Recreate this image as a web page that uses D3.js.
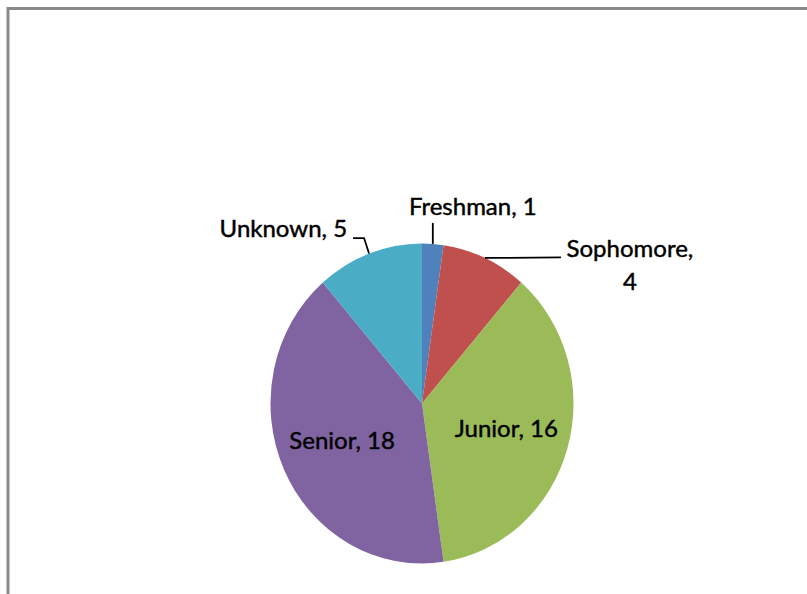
<!doctype html>
<html>
<head>
<meta charset="utf-8">
<script src="https://d3js.org/d3.v7.min.js"></script>
<style>
  body { margin: 0; background: #fff; }
  .lbl { font-family: Lato, "Open Sans", sans-serif; font-size: 24px; fill: #000; stroke: #000; stroke-width: 0.45; }
  .leader { fill: none; stroke: #000; stroke-width: 1.8; }
</style>
</head>
<body>
<svg width="807" height="594"></svg>
<script>
// data
var categories = ["Freshman", "Sophomore", "Junior", "Senior", "Unknown"];
var counts = [1, 4, 16, 18, 5];
var colors = ["#4F81BD", "#C0504D", "#9BBB59", "#8064A2", "#4BACC6"];

var svg = d3.select("svg"),
    cx = 422, cy = 403.5,
    R = 160,
    sx = 0.947; // pie is a bit squeezed horizontally in the original

// chart frame (runs off right/bottom of the picture)
svg.append("rect")
    .attr("x", 8).attr("y", 8.5)
    .attr("width", 900).attr("height", 700)
    .attr("fill", "none")
    .attr("stroke", "#898989")
    .attr("stroke-width", 3);

var pie = d3.pie().sort(null).value(function(d) { return d; });
var arcs = pie(counts);
var arc = d3.arc().innerRadius(0).outerRadius(R);

var g = svg.append("g")
    .attr("transform", "translate(" + cx + "," + cy + ") scale(" + sx + ",1)");

g.selectAll("path")
    .data(arcs)
    .enter().append("path")
    .attr("d", arc)
    .attr("fill", function(d, i) { return colors[i]; });

// point at radius r along the middle of a slice, in page coords
function pt(d, r) {
    var a = (d.startAngle + d.endAngle) / 2;
    return [cx + Math.sin(a) * r * sx, cy - Math.cos(a) * r];
}

function label(i) { return categories[i] + ", " + counts[i]; }

// inside labels: Junior, Senior
[2, 3].forEach(function(i) {
    var p = pt(arcs[i], R * 0.58);
    svg.append("text").attr("class", "lbl")
        .attr("x", p[0]).attr("y", p[1])
        .attr("dy", "0.3em")
        .attr("text-anchor", "middle")
        .text(label(i));
});

// outside labels with leader lines
// Freshman: straight up
var pf = pt(arcs[0], R);
svg.append("path").attr("class", "leader")
    .attr("d", d3.line()([pf, [pf[0], pf[1] - 21]]));
svg.append("text").attr("class", "lbl")
    .attr("x", pf[0] + 40).attr("y", pf[1] - 29)
    .attr("text-anchor", "middle")
    .text(label(0));

// Sophomore: to the right, label wraps
var ps = pt(arcs[1], R);
svg.append("path").attr("class", "leader")
    .attr("d", d3.line()([ps, [ps[0] + 76, ps[1] - 0.5]]));
var ts = svg.append("text").attr("class", "lbl")
    .attr("text-anchor", "middle");
ts.append("tspan").attr("x", ps[0] + 145).attr("y", ps[1] - 1).text(categories[1] + ",");
ts.append("tspan").attr("x", ps[0] + 145).attr("y", ps[1] + 32).text(counts[1]);

// Unknown: up, then left
var pu = pt(arcs[4], R);
svg.append("path").attr("class", "leader")
    .attr("d", d3.line()([pu, [pu[0] - 5, pu[1] - 15.5], [pu[0] - 16, pu[1] - 15.5]]));
svg.append("text").attr("class", "lbl")
    .attr("x", pu[0] - 22).attr("y", pu[1] - 17)
    .attr("text-anchor", "end")
    .text(label(4));
</script>
</body>
</html>
